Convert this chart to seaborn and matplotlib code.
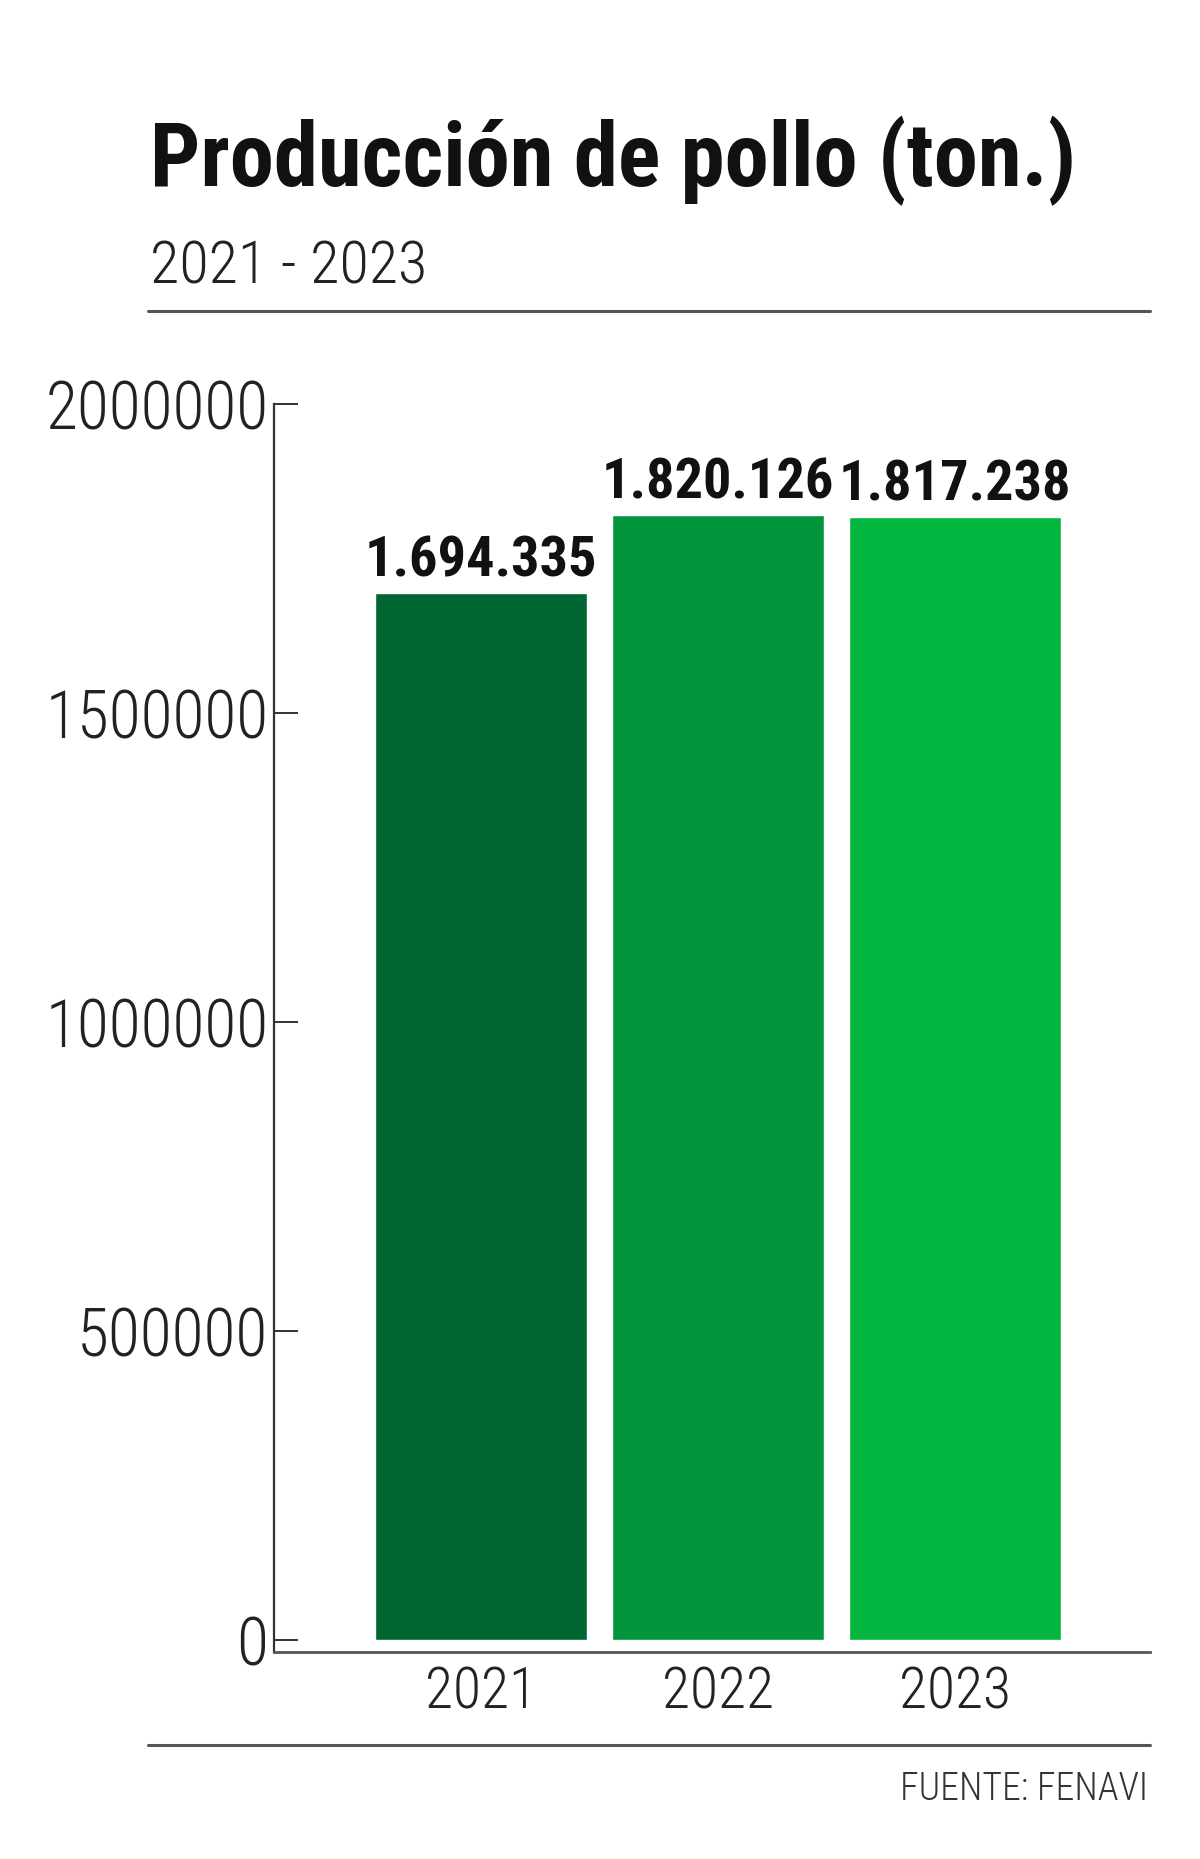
import matplotlib
matplotlib.use("Agg")
import matplotlib.pyplot as plt
import seaborn as sns
from matplotlib.lines import Line2D
from matplotlib import font_manager

# data
years = ["2021", "2022", "2023"]
production = [1694335, 1820126, 1817238]
bar_colors = ["#016732", "#02953B", "#02B63F"]
y_ticks = [0, 500000, 1000000, 1500000, 2000000]

title = "Producción de pollo (ton.)"
subtitle = "2021 - 2023"
source = "FUENTE: FENAVI"

sns.set_theme(style="white")

# pick a narrow face if one is around
installed = {f.name for f in font_manager.fontManager.ttflist}
stretch = "normal"
family = "DejaVu Sans"
for name in ["Roboto Condensed", "Liberation Sans Narrow", "Open Sans Condensed"]:
    if name in installed:
        family = name
        break
else:
    if any(f.name == "DejaVu Sans" and f.stretch == "condensed"
           for f in font_manager.fontManager.ttflist):
        stretch = "condensed"
plt.rcParams["font.family"] = [family, "DejaVu Sans"]
plt.rcParams["font.stretch"] = stretch

W, H = 1200, 1859
fig = plt.figure(figsize=(W / 100, H / 100), dpi=100)
fig.patch.set_facecolor("white")
renderer = fig.canvas.get_renderer()


def fx(px):
    return px / W


def fy(py):
    return 1 - py / H


def fit_size(text, width_px, weight="normal", start=40, cap=None):
    # font size that makes the text about width_px wide
    t = fig.text(0, 0, text, fontsize=start, fontweight=weight)
    w = t.get_window_extent(renderer).width
    t.remove()
    size = start * width_px / w
    if cap is not None:
        size = min(size, cap)
    return size


title_fs = fit_size(title, 923, "bold", cap=68)
sub_fs = fit_size(subtitle, 277, "light", cap=48)
ytick_fs = fit_size("2000000", 222, "light", cap=52)
xtick_fs = fit_size("2021", 112, "light", cap=50)
val_fs = fit_size("1.694.335", 232, "bold", cap=48)
src_fs = fit_size(source, 247, "light", cap=30)

# axes: spine at x=274, bottom axis line at y=1652, 2M tick at y=404
ax = fig.add_axes([fx(274), fy(1652), fx(1150 - 274), fy(404) - fy(1652)])

sns.barplot(x=years, y=production, hue=years, palette=bar_colors,
            saturation=1, width=0.895, legend=False, ax=ax)

ax.set_xlim(-0.873, 2.823)
ax.set_ylim(-19400, 2000000)
ax.set_yticks(y_ticks)
ax.set_yticklabels([str(t) for t in y_ticks], fontweight="light")
ax.set_xticks(range(len(years)))
ax.set_xticklabels(years, fontweight="light")

for cont, v in zip(ax.containers, production):
    ax.bar_label(cont, labels=[f"{v:,}".replace(",", ".")], padding=4,
                 fontsize=val_fs, fontweight="bold", color="#111111")

for s in ["top", "right"]:
    ax.spines[s].set_visible(False)
ax.spines["left"].set_color("#333333")
ax.spines["left"].set_linewidth(1.6)
ax.spines["bottom"].set_color("#555555")
ax.spines["bottom"].set_linewidth(2)

ax.tick_params(axis="y", left=True, direction="in", length=17, width=1.4,
               color="#333333", labelsize=ytick_fs, labelcolor="#222222", pad=4)
ax.tick_params(axis="x", bottom=False, length=0, labelsize=xtick_fs,
               labelcolor="#222222", pad=10)
ax.set_xlabel("")
ax.set_ylabel("")

# header
fig.text(fx(150), fy(186), title, fontsize=title_fs, fontweight="bold",
         color="#111111", ha="left", va="baseline")
fig.text(fx(150), fy(284), subtitle, fontsize=sub_fs, fontweight="light",
         color="#222222", ha="left", va="baseline")
fig.add_artist(Line2D([fx(148), fx(1150)], [fy(311), fy(311)],
                      color="#555555", linewidth=2.2))

# footer
fig.add_artist(Line2D([fx(148), fx(1150)], [fy(1745), fy(1745)],
                      color="#555555", linewidth=2.2))
fig.text(fx(1148), fy(1800), source, fontsize=src_fs, fontweight="light",
         color="#333333", ha="right", va="baseline")

fig.savefig("out.png", dpi=100, facecolor="white")
